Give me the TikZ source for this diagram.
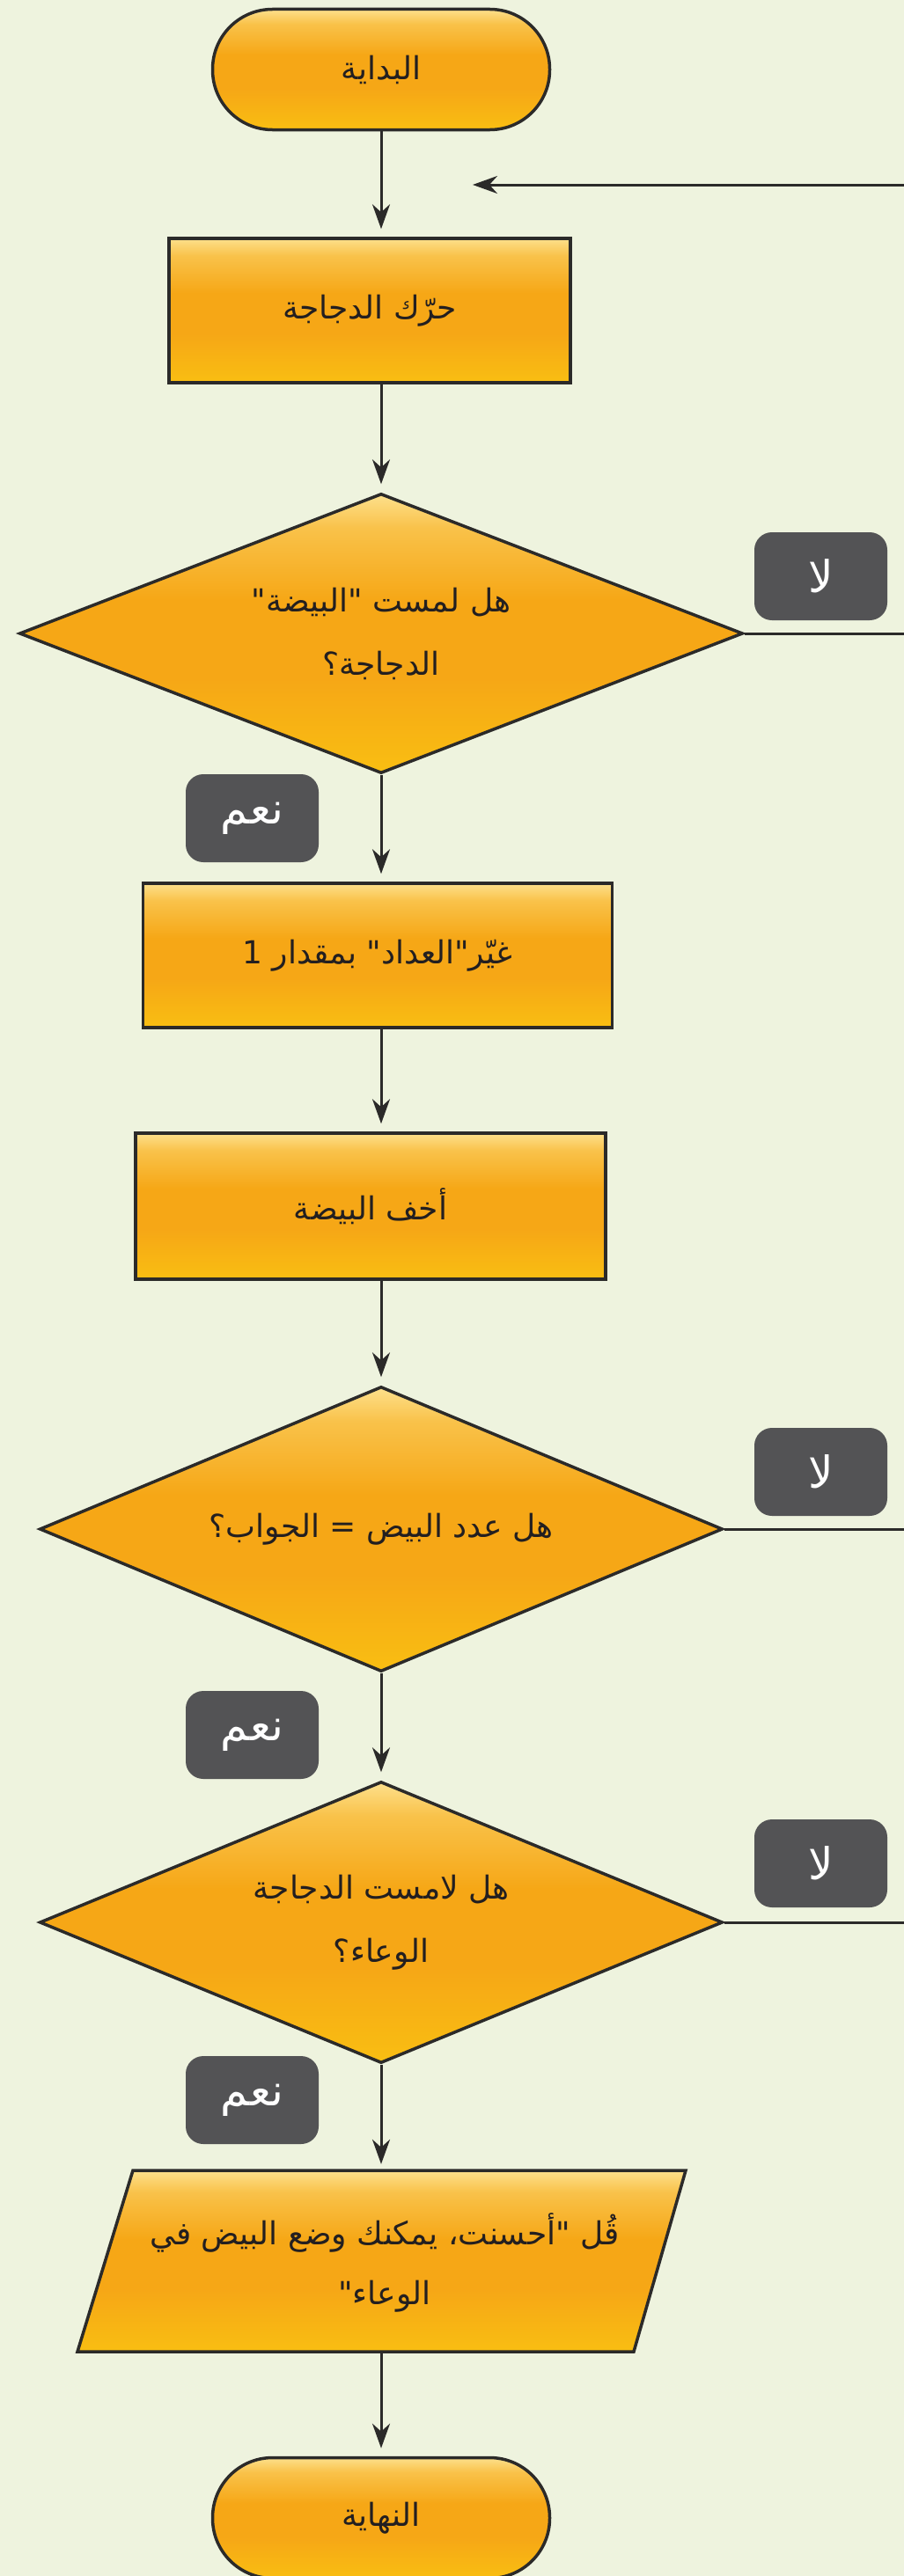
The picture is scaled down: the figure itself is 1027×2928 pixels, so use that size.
\documentclass[tikz,border=0pt]{standalone}
\usepackage{fontspec}
\TeXXeTstate=1
\newfontfamily\arabicfont[Script=Arabic]{DejaVu Sans}
\usetikzlibrary{arrows.meta,shapes.geometric}
\definecolor{bgc}{HTML}{EEF3DE}
\definecolor{outl}{HTML}{2B2A29}
\definecolor{txtc}{HTML}{231F20}
\definecolor{lblc}{HTML}{535355}
\definecolor{ytop}{HTML}{FDE08C}
\definecolor{ylite}{HTML}{F9C24A}
\definecolor{ymid}{HTML}{F6A716}
\definecolor{ybot}{HTML}{F9BE12}
\pgfdeclareverticalshading{boxshade}{100bp}{color(0bp)=(ybot); color(25bp)=(ybot); color(42bp)=(ymid); color(56bp)=(ymid); color(69bp)=(ylite); color(75bp)=(ytop); color(100bp)=(ytop)}
\newcommand{\artxt}[1]{{\arabicfont\beginR #1\endR}}
\tikzset{
  shp/.style={draw=outl, line width=3.5pt, shading=boxshade, text=txtc, align=center, inner sep=0pt,
    font=\fontsize{36}{72}\selectfont},
  term/.style={shp, rectangle, rounded corners=68pt, minimum width=383pt, minimum height=137pt},
  proc/.style={shp, rectangle, minimum height=164pt},
  dec/.style={shp, diamond, aspect=2.5},
  lbl/.style={fill=lblc, rounded corners=20pt, minimum width=151pt, minimum height=100pt,
    text=white, inner sep=0pt, font=\fontsize{50}{56}\selectfont},
  arr/.style={draw=outl, line width=3pt, -{Stealth[length=28pt,width=20pt,inset=9pt]}, shorten >=9pt},
  ln/.style={draw=outl, line width=3pt}
}
\begin{document}
\begin{tikzpicture}[x=1pt,y=-1pt]
\useasboundingbox (0,0) rectangle (1027,2928);
\fill[bgc] (0,0) rectangle (1027,2928);

% nodes
\node[term] (start) at (433,79) {\artxt{البداية}};
\node[proc, minimum width=456pt] (rect1) at (420,353) {\artxt{حرّك الدجاجة}};
\node[dec, minimum width=822pt, minimum height=318pt] (d1) at (433,720)
  {\artxt{هل لمست "البيضة"}\\\artxt{الدجاجة؟}};
\node[proc, minimum width=533pt] (rect2) at (429,1086) {\artxt{غيّر"العداد" بمقدار 1}};
\node[proc, minimum width=534pt, minimum height=166pt] (rect3) at (421,1371) {\artxt{أخف البيضة}};
\node[dec, minimum width=776pt, minimum height=324pt] (d2) at (433,1738)
  {\artxt{هل عدد البيض = الجواب؟}};
\node[dec, minimum width=776pt, minimum height=320pt] (d3) at (433,2185)
  {\artxt{هل لامست الدجاجة}\\\artxt{الوعاء؟}};
\path[draw=outl, line width=3.5pt, shading=boxshade] (151,2467) -- (779,2467) -- (720,2673) -- (88,2673) -- cycle;
\node[align=center, text=txtc, inner sep=0pt, minimum height=206pt, minimum width=500pt,
  font=\fontsize{36}{68}\selectfont] (say) at (437,2572)
  {\artxt{قُل "أحسنت، يمكنك وضع البيض في}\\\artxt{الوعاء"}};
\node[term] (end) at (433,2862) {\artxt{النهاية}};

% labels
\node[lbl] (no1) at (932.5,655) {\artxt{لا}};
\node[lbl] (yes1) at (286.5,930) {\artxt{نعم}};
\node[lbl] (no2) at (932.5,1673) {\artxt{لا}};
\node[lbl] (yes2) at (286.5,1972) {\artxt{نعم}};
\node[lbl] (no3) at (932.5,2118) {\artxt{لا}};
\node[lbl] (yes3) at (286.5,2387) {\artxt{نعم}};

% free ends
\coordinate (e1) at (1027,720);
\coordinate (e2) at (1027,1738);
\coordinate (e3) at (1027,2185);
\coordinate (loopR) at (1027,210);
\coordinate (loopT) at (537,210);

% connectors
\draw[arr] (start.south) -- (start.south |- rect1.north);
\draw[arr] (d1.north |- rect1.south) -- (d1.north);
\draw[arr] (d1.south) -- (d1.south |- rect2.north);
\draw[arr] (d1.south |- rect2.south) -- (d1.south |- rect3.north);
\draw[arr] (d2.north |- rect3.south) -- (d2.north);
\draw[arr] (d2.south) -- (d3.north);
\draw[arr] (d3.south) -- (d3.south |- say.north);
\draw[arr] (d3.south |- say.south) -- (end.north);
\draw[ln] (d1.east) -- (e1);
\draw[ln] (d2.east) -- (e2);
\draw[ln] (d3.east) -- (e3);
\draw[arr, shorten >=0pt] (loopR) -- (loopT);
\end{tikzpicture}
\end{document}
